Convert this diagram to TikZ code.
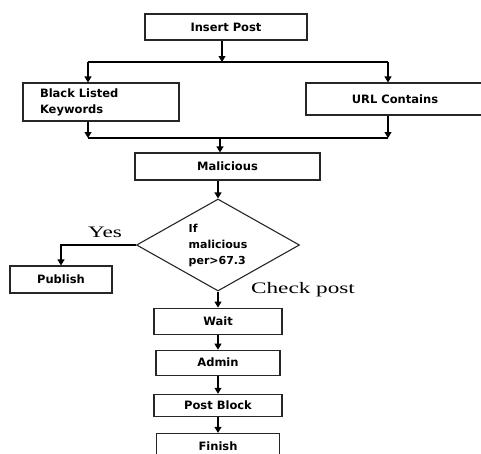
\documentclass[tikz,border=0pt]{standalone}
\usepackage{fontspec}
\setsansfont{DejaVu Sans}
\newfontfamily\labelfont{Liberation Serif}
\usepackage{tikz}
\usetikzlibrary{positioning, shapes.geometric, arrows.meta}
\tikzset{
 block/.style = {
    rectangle, draw=black!85, line width=1.1pt,
    font=\sffamily\bfseries\fontsize{11.5}{16}\selectfont,
    text centered, inner sep=0pt},
 decision/.style = {
    diamond, draw=black!85, line width=1.1pt, aspect=1.77,
    font=\sffamily\bfseries\fontsize{11}{16}\selectfont,
    align=left, inner sep=0pt,
    minimum width=163pt, minimum height=92pt},
 line/.style = {
    draw, line width=1.1pt, -{Triangle[width=7pt,length=6pt]}},
 branch label/.style = {
    font=\labelfont\fontsize{16}{18}\selectfont,
    xscale=1.45, transform shape, inner sep=0pt},
}
\begin{document}
\begin{tikzpicture}[x=1pt, y=1pt, node distance=16pt]
\useasboundingbox (0,0) rectangle (481,-453);

% Place nodes
\node [block, minimum width=162pt, minimum height=26pt] (insert) at (226,-27) {Insert Post};
\node [block, minimum width=156pt, minimum height=38pt, text width=122pt, align=left, inner xsep=17pt] (black) at (101,-102) {Black Listed\\Keywords};
\node [block, minimum width=178pt, minimum height=32pt] (url) at (395,-99) {URL Contains};
\node [block, minimum width=185pt, minimum height=27pt] (malicious) at (227.5,-166.5) {Malicious};
\node [decision] (dec) at (218,-245) {If\\malicious\\per>67.3};
\node [block, minimum width=102pt, minimum height=27pt] (publish) at (61,-279.5) {Publish};
\node [block, minimum width=128pt, minimum height=26pt, below=of dec] (wait) {Wait};
\node [block, minimum width=124pt, minimum height=25pt, below=15pt of wait] (admin) {Admin};
\node [block, minimum width=128pt, minimum height=22pt, below=18pt of admin] (postblock) {Post Block};
\node [block, minimum width=123pt, minimum height=26pt, below=of postblock] (finish) {Finish};

\node [branch label] (yes) at (105,-232) {Yes};
\node [branch label] (check) at (303,-290) {Check post};

% Split and merge points
\coordinate (split) at (222,-62);
\coordinate (sl) at (88,-62);
\coordinate (sr) at (388,-62);
\coordinate (merge) at (220,-138);
\coordinate (ml) at (88,-138);
\coordinate (mr) at (388,-138);

\draw[line] (insert.south -| split) -- (split);
\draw[line width=1.1pt] (sl) -- (sr);
\draw[line] (sl) -- (sl |- black.north);
\draw[line] (sr) -- (sr |- url.north);
\draw[line] (black.south -| ml) -- (ml);
\draw[line] (url.south -| mr) -- (mr);
\draw[line width=1.1pt] (ml) -- (mr);
\draw[line] (merge) -- (merge |- malicious.north);
\draw[line] (malicious.south -| dec) -- (dec.north);
\draw[line] (dec.west) -| (publish.north);
\draw[line] (dec) -- (wait);
\draw[line] (wait) -- (admin);
\draw[line] (admin) -- (postblock);
\draw[line] (postblock) -- (finish);
\end{tikzpicture}
\end{document}
